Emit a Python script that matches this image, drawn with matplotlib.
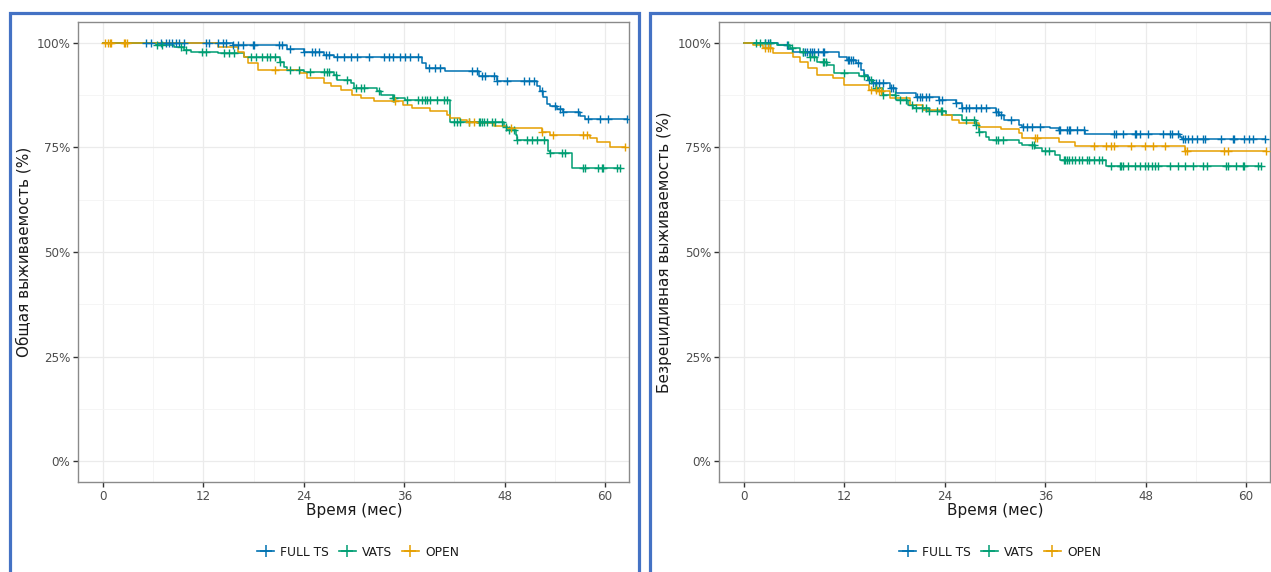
import numpy as np
import matplotlib
matplotlib.use("Agg")
import matplotlib.pyplot as plt
from matplotlib.lines import Line2D
from matplotlib.patches import Rectangle

plt.rcParams['font.family'] = ['DejaVu Sans']

# ---------------- data ----------------
groups = ["FULL TS", "VATS", "OPEN"]
colors = ["#0072B2", "#009E73", "#E69F00"]
x_ticks = [0, 12, 24, 36, 48, 60]
y_ticks = [0, 25, 50, 75, 100]
y_ticklabels = ["0%", "25%", "50%", "75%", "100%"]
x_label = "Время (мес)"
y_label_os = "Общая выживаемость (%)"
y_label_rfs = "Безрецидивная выживаемость (%)"

# Overall survival
os_full_t = [0, 15.5, 22.0, 24.0, 26.4, 27.6, 38.1, 38.6, 40.9, 44.9, 47.1, 51.9, 52.2, 52.6, 53.0,
             53.4, 54.2, 55.0, 57.0, 57.6]
os_full_s = [100, 99.4, 98.6, 97.8, 97.2, 96.7, 95.1, 94.0, 93.2, 92.0, 90.9, 89.6, 88.4, 87.0, 85.5,
             84.9, 84.1, 83.4, 82.6, 81.8]
os_full_cens = [5.1, 5.7, 6.9, 7.5, 7.9, 8.3, 8.7, 9.1, 9.7, 12.3, 12.7, 13.7, 14.3, 14.7, 15.5, 16.1,
                16.7, 17.9, 18.1, 21.0, 21.4, 22.4, 24.0, 25.0, 25.4, 25.8, 26.6, 27.0, 28.0, 28.8,
                29.6, 30.4, 31.8, 33.6, 34.2, 34.7, 35.5, 36.1, 36.7, 37.7, 38.9, 39.7, 40.3, 44.1,
                44.7, 45.3, 45.7, 46.7, 47.1, 48.3, 50.3, 50.9, 51.5, 52.5, 54.0, 54.6, 55.0, 56.8,
                58.0, 59.4, 60.4, 62.6]

os_vats_t = [0, 6.3, 8.5, 9.7, 10.5, 13.7, 16.9, 21.2, 21.6, 22.0, 24.0, 27.6, 28.0, 29.6, 30.0,
             32.8, 33.2, 34.6, 36.1, 41.5, 47.9, 48.3, 49.3, 49.5, 53.2, 53.4, 56.0]
os_vats_s = [100, 99.5, 99.1, 98.3, 97.8, 97.5, 96.6, 95.5, 94.3, 93.6, 93.0, 92.4, 91.2, 90.4, 89.2,
             88.4, 87.6, 86.8, 86.4, 81.2, 80.0, 79.2, 78.0, 76.8, 74.1, 73.7, 70.1]
os_vats_cens = [6.5, 7.1, 9.3, 9.9, 11.9, 12.3, 14.5, 15.1, 15.7, 17.7, 18.3, 19.0, 19.6, 20.0, 20.6,
                21.2, 22.4, 23.4, 24.8, 26.4, 26.8, 27.0, 27.8, 29.2, 30.2, 30.8, 31.2, 33.0, 34.6,
                34.8, 36.3, 37.7, 38.1, 38.5, 38.7, 39.1, 39.9, 40.7, 41.1, 41.9, 42.3, 42.7, 43.7,
                44.9, 45.1, 45.3, 45.5, 45.9, 46.5, 46.9, 47.7, 48.1, 48.5, 49.1, 49.5, 50.7, 51.3,
                51.9, 52.7, 53.4, 54.8, 55.2, 57.4, 57.6, 59.2, 59.6, 59.8, 61.4, 61.8]

os_open_t = [0, 13.7, 16.1, 16.9, 17.3, 18.5, 23.6, 24.4, 26.4, 27.2, 28.4, 29.8, 30.8, 32.4, 35.9,
             36.9, 39.1, 41.1, 41.5, 42.7, 43.5, 44.7, 46.7, 48.3, 52.5, 53.4, 58.2, 59.0, 60.6]
os_open_s = [100, 99.1, 97.9, 96.7, 95.1, 93.6, 92.8, 91.6, 90.4, 89.6, 88.7, 87.6, 86.8, 86.0, 85.2,
             84.4, 83.6, 82.8, 82.0, 81.6, 81.2, 80.8, 80.2, 79.6, 78.8, 78.0, 77.2, 76.4, 75.2]
os_open_cens = [0.3, 0.6, 0.8, 1.0, 2.5, 2.7, 2.9, 20.6, 34.9, 43.7, 44.3, 48.7, 52.5, 53.8, 57.4,
                57.8, 62.4]

# Recurrence-free survival
rfs_full_t = [0, 4.1, 5.3, 5.9, 11.4, 12.3, 13.4, 14.0, 14.4, 14.8, 15.4, 17.4, 18.2, 20.6, 23.3,
              25.3, 26.1, 30.1, 30.5, 31.1, 32.9, 33.2, 36.6, 37.6, 40.8, 52.1, 52.3]
rfs_full_s = [100, 99.5, 98.6, 97.9, 96.7, 95.9, 95.1, 93.6, 92.4, 91.2, 90.4, 89.2, 88.0, 87.1, 86.4,
              85.6, 84.4, 83.4, 82.8, 81.6, 80.4, 80.0, 79.6, 79.2, 78.3, 77.6, 77.1]
rfs_full_cens = [2.5, 2.9, 3.1, 5.1, 7.1, 7.3, 7.5, 7.9, 8.1, 8.4, 8.8, 9.4, 9.6, 12.4, 12.6, 12.8,
                 13.0, 13.6, 15.0, 15.4, 15.8, 16.2, 16.6, 17.6, 17.8, 20.7, 21.1, 21.3, 21.7, 22.1,
                 23.3, 23.7, 25.3, 26.1, 26.5, 26.9, 27.7, 28.3, 28.9, 30.1, 30.3, 30.7, 31.9, 33.4,
                 33.8, 34.4, 35.4, 37.6, 37.8, 38.6, 38.8, 39.0, 39.8, 40.6, 44.2, 44.4, 45.3, 46.7,
                 46.9, 47.3, 48.3, 50.1, 50.9, 51.1, 51.9, 52.5, 52.7, 53.1, 53.5, 54.1, 54.9, 55.1,
                 57.0, 58.4, 58.6, 59.8, 60.4, 60.8, 62.2]

rfs_vats_t = [0, 3.9, 5.5, 6.7, 7.9, 8.7, 9.9, 10.8, 13.8, 14.8, 15.4, 15.8, 16.6, 18.2, 19.6, 20.2,
              22.1, 24.1, 26.1, 27.7, 28.1, 28.9, 29.3, 32.9, 33.2, 34.8, 35.6, 37.2, 37.8, 43.2]
rfs_vats_s = [100, 99.5, 98.7, 97.9, 96.7, 95.5, 94.7, 92.8, 92.0, 91.2, 90.4, 89.2, 87.6, 86.4, 85.2,
              84.4, 83.6, 82.8, 81.6, 80.4, 78.8, 77.6, 76.8, 76.1, 75.7, 74.9, 74.1, 73.3, 72.1, 70.5]
rfs_vats_cens = [1.5, 1.9, 2.5, 3.1, 5.3, 5.7, 7.1, 7.9, 8.4, 9.4, 9.6, 9.8, 12.0, 14.4, 15.2, 15.8,
                 16.6, 18.0, 18.6, 19.4, 20.1, 20.6, 21.3, 21.7, 22.1, 23.1, 23.5, 23.7, 26.5, 27.5,
                 27.7, 28.1, 30.1, 30.3, 30.9, 34.4, 34.6, 36.0, 36.4, 38.2, 38.4, 38.6, 38.8, 39.2,
                 39.6, 40.0, 40.4, 41.0, 41.2, 41.8, 42.4, 42.8, 43.8, 44.9, 45.1, 45.3, 45.9, 46.7,
                 47.3, 47.9, 48.3, 48.7, 49.1, 49.5, 50.9, 51.9, 52.7, 53.7, 54.9, 55.3, 57.6, 57.8,
                 58.8, 59.6, 59.8, 61.4, 61.8]

rfs_open_t = [0, 1.1, 2.3, 3.5, 5.9, 6.7, 7.7, 8.7, 10.6, 12.0, 15.0, 16.2, 17.4, 19.8, 21.4, 23.7,
              24.9, 25.7, 28.1, 30.7, 32.9, 33.2, 37.6, 39.6, 52.7]
rfs_open_s = [100, 99.5, 98.7, 97.5, 96.7, 95.5, 93.9, 92.4, 91.6, 90.0, 88.8, 88.4, 86.8, 85.2, 84.0,
              82.8, 81.6, 80.8, 80.0, 79.4, 78.4, 77.2, 76.2, 75.4, 74.2]
rfs_open_cens = [2.5, 2.9, 3.1, 15.2, 15.8, 16.2, 16.4, 34.8, 35.0, 41.8, 43.2, 43.9, 44.2, 46.3, 47.9,
                 48.9, 50.3, 52.7, 52.9, 57.4, 57.8, 62.4]

# ---------------- figure ----------------
W, H = 1271, 572
fig = plt.figure(figsize=(W / 100, H / 100), dpi=100)

def fx(px):
    return px / W

def fy(py):
    return 1 - py / H

XLIM = (-2.97, 62.85)
YLIM = (-5, 105)


def km_value(times, surv, t):
    idx = np.searchsorted(np.asarray(times), t, side='right') - 1
    return np.asarray(surv)[idx]


def draw_panel(ax, curves):
    ax.set_xlim(*XLIM)
    ax.set_ylim(*YLIM)
    ax.set_xticks(x_ticks)
    ax.set_xticks([6, 18, 30, 42, 54], minor=True)
    ax.set_yticks(y_ticks)
    ax.set_yticks([12.5, 37.5, 62.5, 87.5], minor=True)
    ax.set_yticklabels(y_ticklabels)
    ax.grid(which='major', color='#EBEBEB', lw=0.9, zorder=0)
    ax.grid(which='minor', color='#F4F4F4', lw=0.6, zorder=0)
    ax.set_axisbelow(True)
    for sp in ax.spines.values():
        sp.set_color('#8A8A8A')
        sp.set_linewidth(1.0)
    ax.tick_params(which='major', length=3.5, width=1.0, color='#333333',
                   labelsize=8.6, labelcolor='#4D4D4D', pad=2)
    ax.tick_params(which='minor', length=0)
    for (times, surv, cens), col in zip(curves, colors):
        tend = max(max(cens), times[-1])
        tt = list(times) + [tend]
        ss = list(surv) + [surv[-1]]
        ax.step(tt, ss, where='post', color=col, lw=1.1, zorder=3)
        cy = [km_value(times, surv, c) for c in cens]
        ax.plot(cens, cy, ls='none', marker='+', ms=6, mew=1.0, color=col, zorder=4)


ax1 = fig.add_axes([fx(78), fy(482), fx(551), (482 - 22) / H])
ax2 = fig.add_axes([fx(719), fy(482), fx(551), (482 - 22) / H])

draw_panel(ax1, [(os_full_t, os_full_s, os_full_cens),
                 (os_vats_t, os_vats_s, os_vats_cens),
                 (os_open_t, os_open_s, os_open_cens)])
draw_panel(ax2, [(rfs_full_t, rfs_full_s, rfs_full_cens),
                 (rfs_vats_t, rfs_vats_s, rfs_vats_cens),
                 (rfs_open_t, rfs_open_s, rfs_open_cens)])

# axis titles
fig.text(fx(354), fy(511), x_label, ha='center', va='center', fontsize=11, color='#1A1A1A')
fig.text(fx(995), fy(511), x_label, ha='center', va='center', fontsize=11, color='#1A1A1A')
fig.text(fx(24), fy(252), y_label_os, ha='center', va='center', rotation=90, fontsize=11,
         color='#1A1A1A')
fig.text(fx(665), fy(252), y_label_rfs, ha='center', va='center', rotation=90, fontsize=11,
         color='#1A1A1A')

# legends
handles = [Line2D([], [], color=c, lw=1.2, marker='+', ms=9, mew=1.1) for c in colors]
for cx in (358, 1000):
    fig.legend(handles, groups, loc='center', bbox_to_anchor=(fx(cx), fy(552)), ncol=3,
               frameon=False, fontsize=8.8, handlelength=1.4, handletextpad=0.5,
               columnspacing=0.8, labelcolor='#1A1A1A')

# blue frames around the two panels
fig.add_artist(Rectangle((fx(10), fy(590)), fx(628.5), (590 - 13) / H, transform=fig.transFigure,
                         fill=False, edgecolor='#4472C4', lw=2.3, clip_on=False))
fig.add_artist(Rectangle((fx(650), fy(590)), fx(660), (590 - 13) / H, transform=fig.transFigure,
                         fill=False, edgecolor='#4472C4', lw=2.3, clip_on=False))

fig.savefig("out.png", dpi=100)
